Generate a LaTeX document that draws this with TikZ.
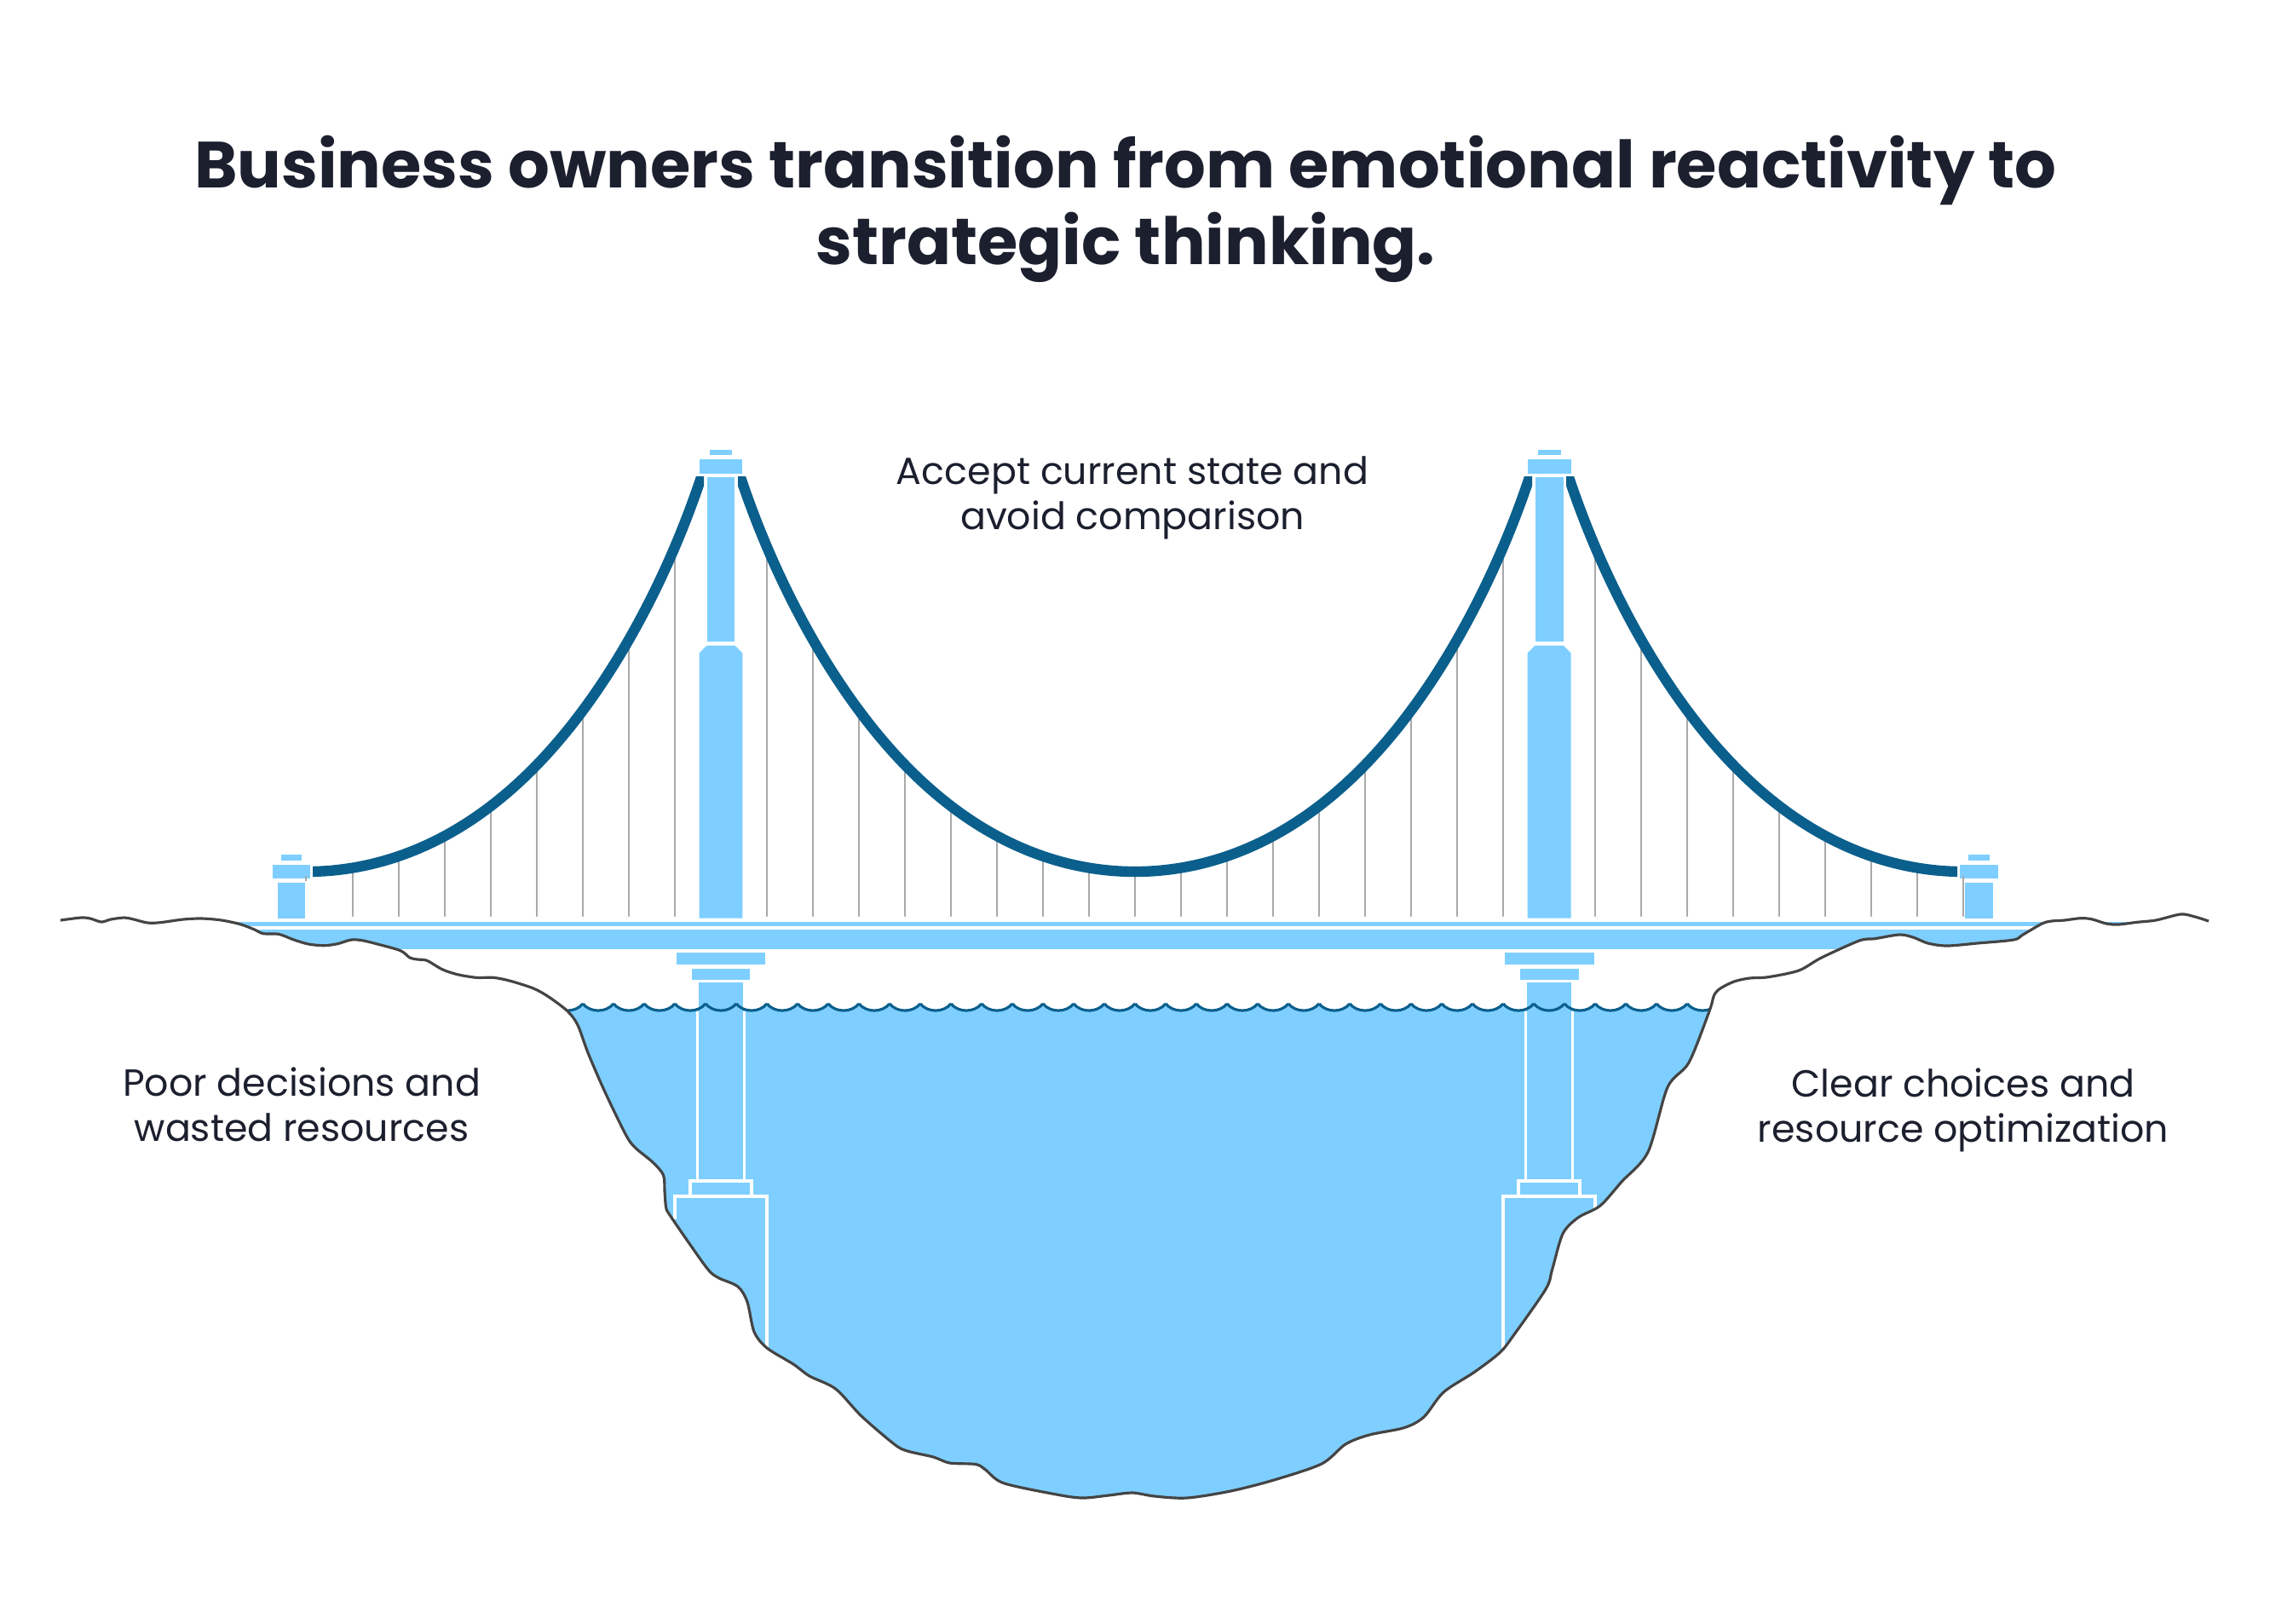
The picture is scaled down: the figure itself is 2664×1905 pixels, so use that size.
\documentclass[tikz,border=0pt]{standalone}
\usepackage{fontspec}
\setmainfont{Poppins}
\usetikzlibrary{positioning}
\definecolor{skyfill}{HTML}{7ECFFF}
\definecolor{cableblue}{HTML}{0B5F8C}
\definecolor{groundgrey}{HTML}{444444}
\definecolor{hangergrey}{HTML}{A9A9A9}
\definecolor{inkdark}{HTML}{1B1F2E}
\newcommand{\groundcurve}{plot[smooth] coordinates {(71,1080) (95,1077) (106,1078) (119,1082) (130,1079) (146,1077) (157,1079) (173,1083) (188,1082.7) (215,1079) (237,1078) (260,1080) (282,1084.7) (298,1090.7) (309,1095.7) (327,1096.3) (345,1103) (362,1108) (380,1109.7) (396,1107.7) (412,1103) (425,1103.7) (443,1108) (470,1115.7) (481,1124) (490,1126) (501,1127.3) (519,1137.7) (537,1143.7) (559,1147.3) (579,1147.3) (599,1151.3) (626,1160) (644,1170) (666,1186.7) (678,1203) (690,1235.5) (709,1279.5) (734,1331) (745,1346.5) (766,1364) (778.5,1379) (780,1398) (781.6,1417) (785.4,1425) (808,1458) (831,1490) (843,1499.6) (866,1510) (877,1528) (885,1563) (900,1582) (931,1601) (950,1615) (980.6,1630) (1011,1662) (1049.5,1695) (1065,1703) (1095.4,1710) (1114.5,1717) (1145,1718.5) (1156.6,1725) (1177.7,1740.6) (1240,1754) (1270.6,1758) (1301,1755) (1329,1752) (1355,1756) (1393,1758) (1444,1750) (1495,1737) (1551,1718) (1579,1695) (1607,1684) (1648,1675.6) (1671,1663) (1694,1634) (1730,1610.5) (1760,1587.6) (1775.7,1568) (1814,1513) (1821.6,1490) (1834,1448) (1852,1429) (1878,1415) (1903,1387) (1934,1352) (1957,1276) (1982,1247) (2006,1186.7) (2011.6,1168) (2019,1160) (2035,1152) (2053,1148) (2075,1146.7) (2111,1139) (2137.5,1124) (2182,1104) (2200,1101.7) (2229,1097) (2245,1100) (2262.5,1107) (2285,1110) (2320.5,1107) (2363,1103) (2374,1097) (2396.4,1084) (2407.6,1081) (2423,1080) (2441,1077.7) (2454.5,1078.7) (2472,1084) (2486,1085) (2508,1082.3) (2530,1080) (2559,1073) (2575,1075.7) (2592,1081)}}

\begin{document}
\begin{tikzpicture}[x=0.01cm, y=-0.01cm,
		declare function={cabley(\d)=1023-326.4*pow(abs(\d)/462,2)-118.6*pow(abs(\d)/462,4)-15*pow(abs(\d)/462,16);},
		towerpart/.style = {fill=skyfill, draw=white, line width=0.3pt},
		hanger/.style = {draw=hangergrey, line width=0.8pt, line cap=round},
		cable/.style = {draw=cableblue, line width=3.5pt},
		groundline/.style = {draw=groundgrey, line width=0.9pt},
		waveline/.style = {draw=cableblue, line width=0.9pt},
		footing/.style = {draw=white, line width=0.9pt},
		headline/.style = {font=\fontsize{21.8}{25.5}\selectfont\bfseries, text=inkdark, align=center},
		caption/.style = {font=\fontsize{12.6}{15}\selectfont, text=inkdark, align=center}]

		\useasboundingbox (0,0) rectangle (2664,1905);

		% text
		\node[headline] (title) at (1321,245) {Business owners transition from emotional reactivity to\\strategic thinking.};
		\node[caption] (accept) at (1329,584) {Accept current state and\\avoid comparison};
		\node[caption] (poor) at (354,1296) {Poor decisions and\\wasted resources};
		\node[caption] (clear) at (2304,1303) {Clear choices and\\resource optimization};

		% deck and water stop at the ground line
		\begin{scope}
			\clip \groundcurve -- (2664,0) -- (0,0) -- cycle;
			\fill[skyfill] (200,1082) rectangle (2500,1087);
			\fill[skyfill] (200,1091) rectangle (2500,1114);
			\fill[skyfill] (640,1186) rectangle (2030,1800);
			\foreach \x in {648,684,...,1980}
			\fill[skyfill] (\x,1178) .. controls (\x+9,1188.7) and (\x+27,1188.7) .. (\x+36,1178) -- (\x+36.5,1190) -- (\x,1190) -- cycle;
		\end{scope}

		% caps of the end towers sit under the hangers
		\foreach \value in {342,2322} {
			\draw[towerpart] (\value-13,1002) rectangle (\value+13,1011);
			\draw[towerpart] (\value-23,1014) rectangle (\value+23,1032);
		}

		% hangers, measured from the low point of each span
		\foreach \d in {54,108,...,432} {
			\draw[hanger] (360+\d,{cabley(\d)}) -- (360+\d,1075);
			\draw[hanger] (2304-\d,{cabley(\d)}) -- (2304-\d,1075);
			\draw[hanger] (1332-\d,{cabley(\d)}) -- (1332-\d,1075);
			\draw[hanger] (1332+\d,{cabley(\d)}) -- (1332+\d,1075);
		}
		\draw[hanger] (1332,1023) -- (1332,1075);
		\draw[hanger] (359,1029) -- (359,1075);
		\draw[hanger] (2304,1029) -- (2304,1075);

		% end tower shafts
		\foreach \value in {342,2322}
		\draw[towerpart] (\value-17,1035) rectangle (\value+17,1078);

		% main towers and piers
		\foreach \value in {846,1818} {
			\draw[towerpart] (\value-14,527) rectangle (\value+14,535);
			\draw[towerpart] (\value-26,538) rectangle (\value+26,557);
			\draw[towerpart] (\value-17,559) rectangle (\value+17,754);
			\draw[towerpart] (\value-17,757) -- (\value+17,757) -- (\value+26,766) -- (\value+26,1078) -- (\value-26,1078) -- (\value-26,766) -- cycle;
			\draw[towerpart] (\value-53,1117) rectangle (\value+53,1132);
			\draw[towerpart] (\value-35,1136) rectangle (\value+35,1150);
			\fill[skyfill] (\value-26,1153) rectangle (\value+26,1190);
			\draw[footing] (\value-27.5,1187) -- (\value-27.5,1386);
			\draw[footing] (\value+27.5,1187) -- (\value+27.5,1386);
			\draw[footing] (\value-36,1404) -- (\value-36,1386) -- (\value+36,1386) -- (\value+36,1404);
		}

		% footings end at the ground line
		\draw[footing] (792,1431) -- (792,1404) -- (900,1404) -- (900,1581);
		\draw[footing] (1764,1582) -- (1764,1404) -- (1872,1404) -- (1872,1419);

		% cables
		\foreach \cx/\dir/\dmin in {360/1/7,2304/-1/7,1332/-1/-1,1332/1/-1} {
			\begin{scope}[shift={(\cx,0)}, xscale=\dir]
				\clip (\dmin,559) rectangle (466,1040);
				\draw[cable] plot[domain=-10:490, samples=120, smooth] (\x,{cabley(\x)});
			\end{scope}
		}

		% water surface and ground
		\begin{scope}
			\clip \groundcurve -- (2664,0) -- (0,0) -- cycle;
			\foreach \x in {648,684,...,1980}
			\draw[waveline] (\x,1178) .. controls (\x+9,1188.7) and (\x+27,1188.7) .. (\x+36,1178);
		\end{scope}
		\draw[groundline] \groundcurve;

\end{tikzpicture}
\end{document}
